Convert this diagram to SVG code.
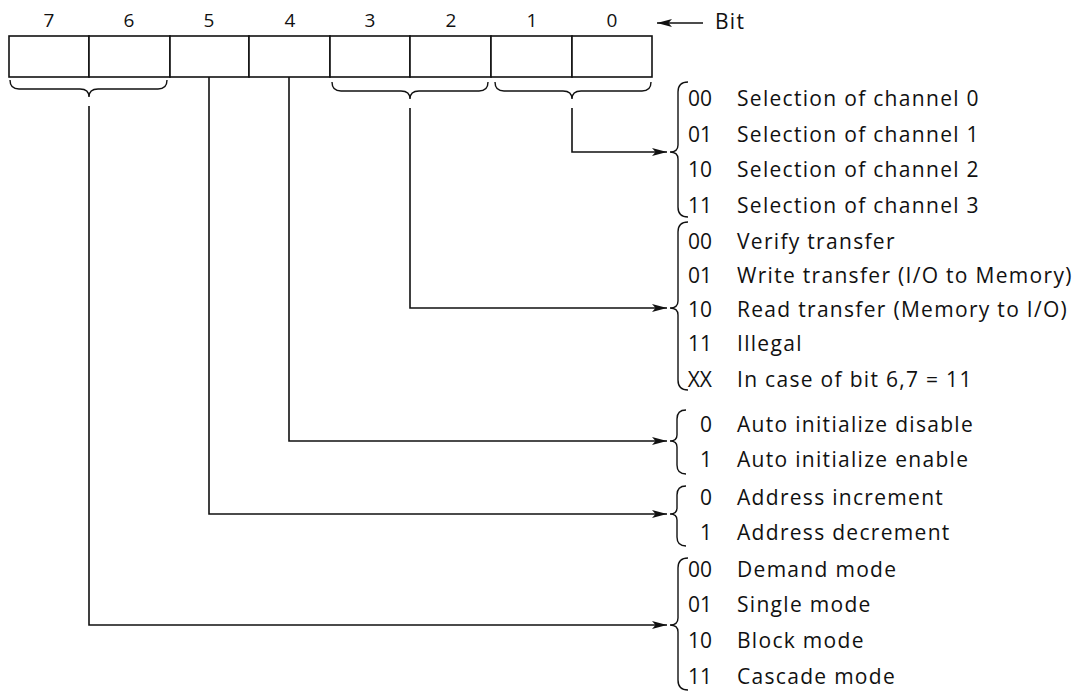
<svg xmlns="http://www.w3.org/2000/svg" width="1076" height="694" viewBox="0 0 1076 694">
<style>
.bg{fill:#fff}
.cell{fill:#fff;stroke:#111;stroke-width:1.6}
.ln{fill:none;stroke:#111;stroke-width:1.6}
.br{fill:none;stroke:#111;stroke-width:1.4}
.num{font-family:"Open Sans","Liberation Sans",sans-serif;font-size:19px;fill:#111;text-anchor:middle}
.t{font-family:"Open Sans","Liberation Sans",sans-serif;font-size:21px;letter-spacing:1.3px;fill:#111}
.code{font-family:"Open Sans","Liberation Sans",sans-serif;font-size:21px;fill:#111;text-anchor:end}
</style>
<defs>
<marker id="ah" markerWidth="16" markerHeight="10" refX="15" refY="5" orient="auto" markerUnits="userSpaceOnUse">
<path d="M0,1 L15,5 L0,9 L3.5,5 Z" fill="#111"/>
</marker>
</defs>
<rect class="bg" x="0" y="0" width="1076" height="694"/>

<g id="bit-labels">
<text class="num" x="49" y="27">7</text>
<text class="num" x="129" y="27">6</text>
<text class="num" x="209" y="27">5</text>
<text class="num" x="290" y="27">4</text>
<text class="num" x="370" y="27">3</text>
<text class="num" x="451" y="27">2</text>
<text class="num" x="532" y="27">1</text>
<text class="num" x="612" y="27">0</text>
</g>
<g id="bit-pointer">
<line class="ln" x1="703" y1="23" x2="657" y2="23" marker-end="url(#ah)"/>
<text class="t" x="715" y="29">Bit</text>
</g>

<g id="register">
<rect id="bit7" class="cell" x="9" y="36" width="80" height="41"/>
<rect id="bit6" class="cell" x="89" y="36" width="81" height="41"/>
<rect id="bit5" class="cell" x="170" y="36" width="79" height="41"/>
<rect id="bit4" class="cell" x="249" y="36" width="81" height="41"/>
<rect id="bit3" class="cell" x="330" y="36" width="80" height="41"/>
<rect id="bit2" class="cell" x="410" y="36" width="81" height="41"/>
<rect id="bit1" class="cell" x="491" y="36" width="81" height="41"/>
<rect id="bit0" class="cell" x="572" y="36" width="80" height="41"/>
</g>

<g id="register-braces">
<path class="br" d="M10,80 Q10,89 19,89 L80,89 Q89,89 89,97 Q89,89 98,89 L158,89 Q167,89 167,80"/>
<path class="br" d="M332,82 Q332,91 341,91 L401,91 Q410,91 410,99 Q410,91 419,91 L479,91 Q488,91 488,82"/>
<path class="br" d="M495,82 Q495,91 504,91 L563,91 Q572,91 572,99 Q572,91 581,91 L642,91 Q651,91 651,82"/>
</g>

<g id="connectors">
<path class="ln" d="M572,108 V152 H667" marker-end="url(#ah)"/>
<path class="ln" d="M410,108 V308 H667" marker-end="url(#ah)"/>
<path class="ln" d="M289,77 V441 H667" marker-end="url(#ah)"/>
<path class="ln" d="M209,77 V514 H667" marker-end="url(#ah)"/>
<path class="ln" d="M89,106 V625 H667" marker-end="url(#ah)"/>
</g>

<g id="channel-select">
<path class="br" d="M688,82 Q678,82 678,92 L678,145 Q678,152 670,152 Q678,152 678,159 L678,207 Q678,217 688,217"/>
<text class="code" x="712" y="106">00</text><text class="t" x="737" y="106">Selection of channel 0</text>
<text class="code" x="712" y="142">01</text><text class="t" x="737" y="142">Selection of channel 1</text>
<text class="code" x="712" y="177">10</text><text class="t" x="737" y="177">Selection of channel 2</text>
<text class="code" x="712" y="213">11</text><text class="t" x="737" y="213">Selection of channel 3</text>
</g>

<g id="transfer-type">
<path class="br" d="M688,222 Q678,222 678,232 L678,301 Q678,308 670,308 Q678,308 678,315 L678,380 Q678,390 688,390"/>
<text class="code" x="712" y="249">00</text><text class="t" x="737" y="249">Verify transfer</text>
<text class="code" x="712" y="283">01</text><text class="t" x="737" y="283">Write transfer (I/O to Memory)</text>
<text class="code" x="712" y="317">10</text><text class="t" x="737" y="317">Read transfer (Memory to I/O)</text>
<text class="code" x="712" y="351">11</text><text class="t" x="737" y="351">Illegal</text>
<text class="code" x="712" y="387">XX</text><text class="t" x="737" y="387">In case of bit 6,7 = 11</text>
</g>

<g id="auto-init">
<path class="br" d="M686,410 Q677,410 677,419 L677,435 Q677,441 670,441 Q677,441 677,447 L677,465 Q677,474 686,474"/>
<text class="code" x="712" y="432">0</text><text class="t" x="737" y="432">Auto initialize disable</text>
<text class="code" x="712" y="467">1</text><text class="t" x="737" y="467">Auto initialize enable</text>
</g>

<g id="address-mode">
<path class="br" d="M686,486 Q677,486 677,495 L677,508 Q677,514 670,514 Q677,514 677,520 L677,537 Q677,546 686,546"/>
<text class="code" x="712" y="505">0</text><text class="t" x="737" y="505">Address increment</text>
<text class="code" x="712" y="540">1</text><text class="t" x="737" y="540">Address decrement</text>
</g>

<g id="transfer-mode">
<path class="br" d="M688,558 Q678,558 678,568 L678,618 Q678,625 670,625 Q678,625 678,632 L678,680 Q678,690 688,690"/>
<text class="code" x="712" y="577">00</text><text class="t" x="737" y="577">Demand mode</text>
<text class="code" x="712" y="612">01</text><text class="t" x="737" y="612">Single mode</text>
<text class="code" x="712" y="648">10</text><text class="t" x="737" y="648">Block mode</text>
<text class="code" x="712" y="684">11</text><text class="t" x="737" y="684">Cascade mode</text>
</g>
</svg>
